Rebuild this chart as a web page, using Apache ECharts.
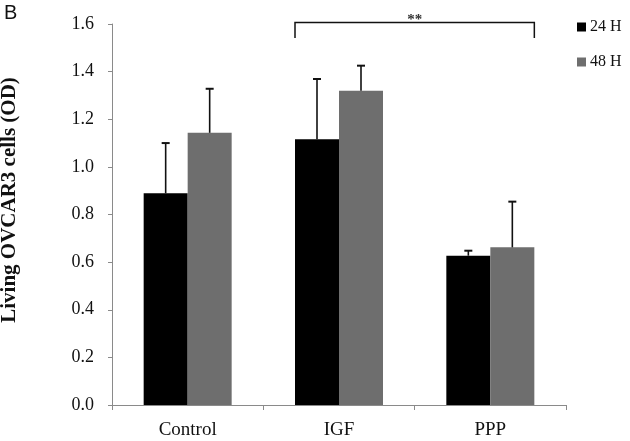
<!DOCTYPE html>
<html>
<head>
<meta charset="utf-8">
<script src="https://cdn.jsdelivr.net/npm/echarts@6/dist/echarts.min.js"></script>
<style>html,body{margin:0;padding:0;background:#fff;}#c{width:630px;height:441px;}</style>
</head>
<body>
<div id="c"></div>
<script>
// ---- data ----
const categories = ['Control', 'IGF', 'PPP'];
const seriesNames = ['24 H', '48 H'];
const mean24 = [0.889, 1.116, 0.627];
const err24 = [0.211, 0.253, 0.021];
const mean48 = [1.143, 1.320, 0.662];
const err48 = [0.185, 0.105, 0.192];
const yTicks = [0.0, 0.2, 0.4, 0.6, 0.8, 1.0, 1.2, 1.4, 1.6];
// significance bracket: from IGF (24 H) to PPP (48 H)
const bracketCats = [1, 2];
const bracketTop = 1.606;
const bracketLegBottom = 1.541;
const bracketLabel = '**';
const bracketLabelY = 1.618;

const SERIF = '"Liberation Serif", "Times New Roman", serif';
const BAR_W = 44;
const colors = ['#000000', '#6e6e6e'];

const chart = echarts.init(document.getElementById('c'));

function errRender(sIdx) {
  return function (params, api) {
    const c = api.coord([api.value(0), api.value(1) + api.value(2)]);
    const base = api.coord([api.value(0), api.value(1)]);
    const x = c[0] + (sIdx - 0.5) * BAR_W;
    const style = { stroke: '#111', lineWidth: 1.6 };
    return {
      type: 'group',
      children: [
        { type: 'line', shape: { x1: x, y1: base[1], x2: x, y2: c[1] }, style },
        { type: 'line', shape: { x1: x - 4, y1: c[1], x2: x + 4, y2: c[1] }, style: { stroke: '#111', lineWidth: 2 } }
      ]
    };
  };
}

const errData24 = categories.map((c, i) => [i, mean24[i], err24[i]]);
const errData48 = categories.map((c, i) => [i, mean48[i], err48[i]]);

const option = {
  animation: false,
  backgroundColor: '#fff',
  title: {
    text: 'B', left: 4, top: 3, padding: 0,
    textStyle: { fontFamily: '"Liberation Sans", Arial, sans-serif', fontSize: 20, fontWeight: 'normal', color: '#111' }
  },
  legend: {
    data: seriesNames,
    orient: 'vertical',
    left: 572, top: 14,
    itemWidth: 9, itemHeight: 9, itemGap: 19,
    icon: 'rect',
    textStyle: { fontFamily: SERIF, fontSize: 16, color: '#111', padding: [0, 0, 0, -1] }
  },
  grid: { left: 112, right: 64, top: 24, bottom: 36, containLabel: false, outerBoundsMode: 'none' },
  xAxis: {
    type: 'category',
    data: categories,
    axisLine: { lineStyle: { color: '#8a8a8a', width: 1 } },
    axisTick: { show: true, length: 5, lineStyle: { color: '#8a8a8a' } },
    axisLabel: { fontFamily: SERIF, fontSize: 19, color: '#111', margin: 16 }
  },
  yAxis: {
    type: 'value',
    min: yTicks[0], max: yTicks[yTicks.length - 1], interval: 0.2,
    name: 'Living OVCAR3 cells (OD)',
    nameLocation: 'middle',
    nameGap: 92,
    nameRotate: 90,
    nameTextStyle: { fontFamily: SERIF, fontSize: 21, fontWeight: 'bold', color: '#111', padding: [0, 0, 0, 29] },
    axisLine: { show: true, lineStyle: { color: '#8a8a8a', width: 1 } },
    axisTick: { show: true, length: 4, lineStyle: { color: '#8a8a8a' } },
    splitLine: { show: false },
    axisLabel: { fontFamily: SERIF, fontSize: 18, color: '#111', margin: 18, formatter: v => v.toFixed(1) }
  },
  series: [
    { name: seriesNames[0], type: 'bar', data: mean24, barWidth: BAR_W, barGap: '0%', itemStyle: { color: colors[0] } },
    { name: seriesNames[1], type: 'bar', data: mean48, barWidth: BAR_W, barGap: '0%', itemStyle: { color: colors[1] } },
    { type: 'custom', renderItem: errRender(0), data: errData24, z: 5, silent: true },
    { type: 'custom', renderItem: errRender(1), data: errData48, z: 5, silent: true },
    {
      type: 'custom', silent: true, z: 6, clip: false,
      data: [[bracketCats[0], bracketCats[1], bracketTop, bracketLegBottom, bracketLabelY]],
      renderItem: function (params, api) {
        const pL = api.coord([api.value(0), api.value(2)]);
        const pR = api.coord([api.value(1), api.value(2)]);
        const yBot = api.coord([api.value(0), api.value(3)])[1];
        const yLab = api.coord([api.value(0), api.value(4)])[1];
        const xL = pL[0] - BAR_W;
        const xR = pR[0] + BAR_W;
        return {
          type: 'group',
          children: [
            { type: 'polyline', shape: { points: [[xL, yBot], [xL, pL[1]], [xR, pL[1]], [xR, yBot]] }, style: { stroke: '#111', lineWidth: 1.5, fill: null } },
            { type: 'text', style: { text: bracketLabel, x: (xL + xR) / 2, y: yLab, align: 'center', verticalAlign: 'middle', font: 'bold 15px ' + SERIF, fill: '#333' } }
          ]
        };
      }
    }
  ]
};
chart.setOption(option);
</script>
</body>
</html>
